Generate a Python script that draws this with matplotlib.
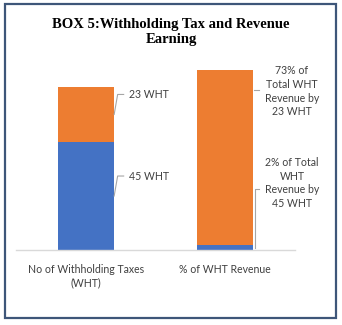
import matplotlib
matplotlib.use("Agg")
import matplotlib.pyplot as plt
from matplotlib.patches import Rectangle

# Data
categories = ["No of Withholding Taxes\n(WHT)", "% of WHT Revenue"]
share_45_wht = [45, 2]
share_23_wht = [23, 73]
labels_45 = ["45 WHT", "2% of Total\nWHT\nRevenue by\n45 WHT"]
labels_23 = ["23 WHT", "73% of\nTotal WHT\nRevenue by\n23 WHT"]
title = "BOX 5:Withholding Tax and Revenue\nEarning"

BLUE = "#4472C4"
ORANGE = "#ED7D31"
TEXT = "#404040"
FRAME = "#3E5679"

W, H, DPI = 342, 325, 100
fig = plt.figure(figsize=(W / DPI, H / DPI), dpi=DPI)

# plot area in pixel terms (left, bottom-from-top, right, top-from-top)
ax_l, ax_r, ax_b, ax_t = 16, 295, 250, 60
ax = fig.add_axes([ax_l / W, (H - ax_b) / H, (ax_r - ax_l) / W, (ax_b - ax_t) / H])

ymax = 79.2
ax.set_xlim(-0.5, 1.5)
ax.set_ylim(0, ymax)
px_x = 2.0 / (ax_r - ax_l)        # data x-units per pixel
px_y = ymax / (ax_b - ax_t)       # data y-units per pixel

x = list(range(len(categories)))
bw = 0.4
ax.bar(x, share_45_wht, width=bw, color=BLUE, zorder=2)
ax.bar(x, share_23_wht, width=bw, bottom=share_45_wht, color=ORANGE, zorder=2)

for s in ["top", "right", "left"]:
    ax.spines[s].set_visible(False)
ax.spines["bottom"].set_color("#D9D9D9")
ax.spines["bottom"].set_linewidth(1.0)
ax.set_yticks([])
ax.set_xticks(x)
ax.set_xticklabels(categories, fontsize=7.6, color=TEXT, family="Lato",
                   linespacing=1.25)
ax.tick_params(axis="x", length=0, pad=10)

lab_kw = dict(fontsize=7.6, color=TEXT, family="Lato")
leader_kw = dict(color="#A6A6A6", lw=0.8, zorder=3, clip_on=False)

# first bar: diagonal leader lines with a short horizontal tail
edge = x[0] + bw / 2
for y_mid, txt in [(share_45_wht[0] / 2, labels_45[0]),
                   (share_45_wht[0] + share_23_wht[0] / 2, labels_23[0])]:
    y_el = y_mid + 20 * px_y
    ax.plot([edge + 0.5 * px_x, edge + 4 * px_x, edge + 10 * px_x],
            [y_mid, y_el, y_el], **leader_kw)
    ax.text(edge + 15 * px_x, y_el, txt, ha="left", va="center", **lab_kw)

# second bar: text blocks to the right
edge2 = x[1] + bw / 2
tx = x[1] + (292 - (ax_l + 1.5 * (ax_r - ax_l) / 2)) * px_x
top2 = share_45_wht[1] + share_23_wht[1]
y_or = top2 - 8.3
ax.plot([edge2 + 1 * px_x, edge2 + 6 * px_x], [y_or, y_or], **leader_kw)
ax.text(tx, top2 - 8.8, labels_23[1], ha="center", va="center",
        linespacing=1.3, **lab_kw)

y_bl = share_45_wht[1] / 2
y_el2 = y_bl + (250 - 191) * px_y - share_45_wht[1] / 2 * 0
ax.plot([edge2 + 2 * px_x, edge2 + 2 * px_x, edge2 + 6 * px_x],
        [y_bl, y_el2, y_el2], **leader_kw)
ax.text(tx, y_el2 + 2.3, labels_45[1], ha="center", va="center",
        linespacing=1.3, **lab_kw)

fig.text(0.5, (H - 32) / H, title, ha="center", va="center",
         fontsize=10.5, fontweight="bold", family="Liberation Serif",
         color="black", linespacing=1.25)

# frame around the whole box
fig.patches.append(Rectangle((5 / W, (H - 318) / H), 331 / W, 314 / H,
                             transform=fig.transFigure, fill=False,
                             edgecolor=FRAME, linewidth=1.6))

fig.savefig("out.png", dpi=DPI)
